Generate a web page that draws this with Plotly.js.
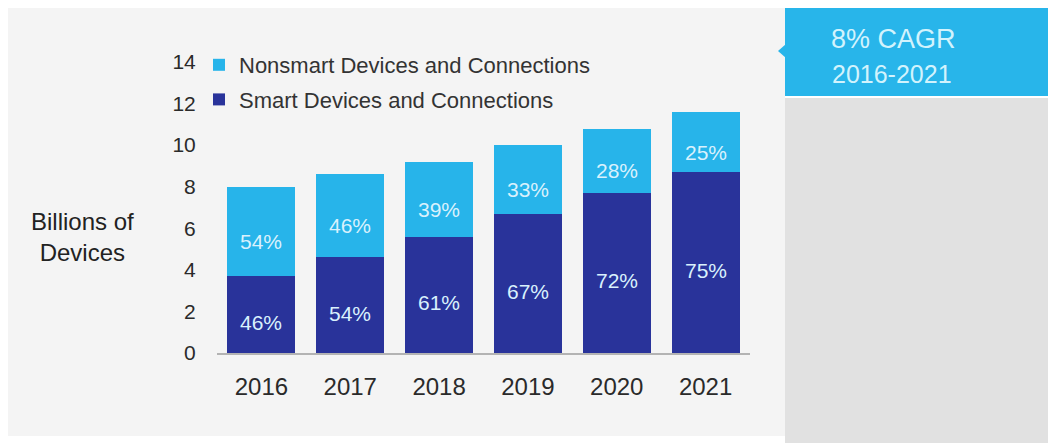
<!DOCTYPE html>
<html>
<head>
<meta charset="utf-8">
<script src="https://cdn.plot.ly/plotly-3.0.1.min.js"></script>
<style>
  html, body { margin: 0; padding: 0; background: #ffffff; }
  #chart { width: 1048px; height: 443px; }
</style>
</head>
<body>
<div id="chart"></div>
<script>
// ---- data ----
var years = ['2016', '2017', '2018', '2019', '2020', '2021'];
var smartValues = [3.7, 4.6, 5.6, 6.7, 7.7, 8.7];
var nonsmartValues = [4.3, 4.0, 3.6, 3.3, 3.1, 2.9];
var smartLabels = ['46%', '54%', '61%', '67%', '72%', '75%'];
var nonsmartLabels = ['54%', '46%', '39%', '33%', '28%', '25%'];
var yTicks = [0, 2, 4, 6, 8, 10, 12, 14];
var calloutLines = ['8% CAGR', '2016-2021'];

// ---- geometry helpers (pixel -> paper) ----
var W = 1048, H = 443;
var PL = 217, PR = 750, PT = 62, PB = 353;
function px(x) { return (x - PL) / (PR - PL); }
function py(y) { return (PB - y) / (PB - PT); }

var FONT = 'Liberation Sans, Arial, sans-serif';
var labelColor = '#d9f1fd';

var traces = [
  {
    type: 'bar', name: 'Smart Devices and Connections',
    x: years, y: smartValues,
    marker: { color: '#29339a' }, legendgroup: 'smart', legendrank: 2, hoverinfo: 'x+y'
  },
  {
    type: 'bar', name: 'Nonsmart Devices and Connections',
    x: years, y: nonsmartValues,
    marker: { color: '#27b4ea' }, legendgroup: 'nonsmart', legendrank: 1, hoverinfo: 'x+y'
  }
];

var shapes = [
  // main light panel
  { type: 'rect', xref: 'paper', yref: 'paper', layer: 'below',
    x0: px(8), x1: px(785), y0: py(436), y1: py(8),
    fillcolor: '#f4f4f4', line: { width: 0 } },
  // right gray panel
  { type: 'rect', xref: 'paper', yref: 'paper', layer: 'below',
    x0: px(785), x1: px(1048), y0: py(443), y1: py(98),
    fillcolor: '#e1e1e1', line: { width: 0 } },
  // blue callout
  { type: 'rect', xref: 'paper', yref: 'paper', layer: 'below',
    x0: px(785), x1: px(1048), y0: py(96), y1: py(8),
    fillcolor: '#28b5ea', line: { width: 0 } },
  // callout notch
  { type: 'path', xref: 'paper', yref: 'paper', layer: 'below',
    path: 'M ' + px(786) + ' ' + py(44) + ' L ' + px(778) + ' ' + py(51) +
          ' L ' + px(786) + ' ' + py(58) + ' Z',
    fillcolor: '#28b5ea', line: { width: 0 } }
];

var annotations = [
  { xref: 'paper', yref: 'paper', x: px(82), y: py(237), xanchor: 'center', yanchor: 'middle',
    text: 'Billions of<br>Devices', showarrow: false, align: 'center',
    font: { family: FONT, size: 24, color: '#222222' } },
  { xref: 'paper', yref: 'paper', x: px(829), y: py(39), xanchor: 'left', yanchor: 'middle',
    text: calloutLines[0], showarrow: false,
    font: { family: FONT, size: 27, color: '#d2f3fd' } },
  { xref: 'paper', yref: 'paper', x: px(830), y: py(74), xanchor: 'left', yanchor: 'middle',
    text: calloutLines[1], showarrow: false,
    font: { family: FONT, size: 25, color: '#d2f3fd' } }
];

// percentage labels inside the bar segments, placed on the data scale
// (category axis: annotation x given as the category index)
years.forEach(function (yr, i) {
  annotations.push({
    xref: 'x', yref: 'y', x: i, y: smartValues[i] / 2, yshift: -8,
    text: smartLabels[i], showarrow: false, xanchor: 'center', yanchor: 'middle',
    font: { family: FONT, size: 21, color: labelColor }
  });
  annotations.push({
    xref: 'x', yref: 'y', x: i, y: smartValues[i] + nonsmartValues[i] / 2, yshift: -10,
    text: nonsmartLabels[i], showarrow: false, xanchor: 'center', yanchor: 'middle',
    font: { family: FONT, size: 21, color: labelColor }
  });
});

var layout = {
  width: W, height: H,
  margin: { l: PL, r: W - PR, t: PT, b: H - PB, pad: 0 },
  paper_bgcolor: '#ffffff', plot_bgcolor: 'rgba(0,0,0,0)',
  barmode: 'stack', bargap: 0.234,
  showlegend: true,
  legend: {
    x: px(199), y: py(44), xanchor: 'left', yanchor: 'top',
    traceorder: 'grouped', tracegroupgap: 3,
    bgcolor: 'rgba(0,0,0,0)', itemwidth: 30,
    font: { family: FONT, size: 22, color: '#333333' }
  },
  xaxis: {
    type: 'category', range: [-0.5, 5.5], fixedrange: true,
    showline: true, linecolor: '#b3b3b3', linewidth: 2,
    showgrid: false, zeroline: false,
    ticks: 'outside', ticklen: 11, tickcolor: 'rgba(0,0,0,0)',
    tickfont: { family: FONT, size: 24, color: '#2a2a2a' }
  },
  yaxis: {
    range: [0, 14], tickvals: yTicks, fixedrange: true,
    showline: false, showgrid: false, zeroline: false,
    ticks: 'outside', ticklen: 16, tickcolor: 'rgba(0,0,0,0)',
    tickfont: { family: FONT, size: 21, color: '#2a2a2a' }
  },
  shapes: shapes,
  annotations: annotations
};

Plotly.newPlot('chart', traces, layout, { displayModeBar: false, staticPlot: true });
</script>
</body>
</html>
